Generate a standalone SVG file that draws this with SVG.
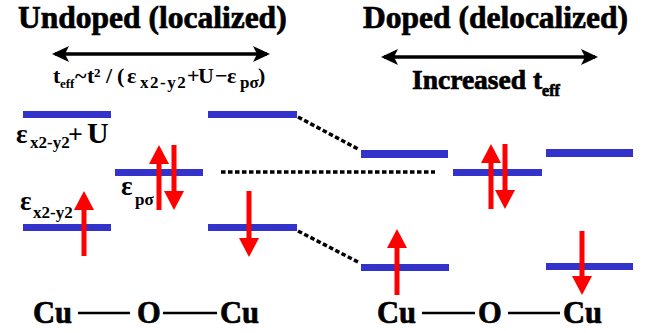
<svg xmlns="http://www.w3.org/2000/svg" width="652" height="333" viewBox="0 0 652 333">
<style>
text{font-family:"Liberation Serif","Times New Roman",serif;font-weight:bold;fill:#000}
.heavy{stroke:#000;stroke-width:0.7}
.lvl{fill:#3333cc}
.spin{stroke:#ff0000;stroke-width:5;fill:none}
.dbl{stroke:#000;stroke-width:3.5;fill:none}
.dot{stroke:#000;stroke-width:3.5;stroke-dasharray:4.5 2.5;fill:none}
.bond{stroke:#000;stroke-width:2.5}
</style>
<defs>
<marker id="rh" markerUnits="userSpaceOnUse" markerWidth="22" markerHeight="22" viewBox="0 0 22 22" refX="7" refY="11" orient="auto">
<path d="M0,1 L19,11 L0,21 Z" fill="#ff0000"/>
</marker>
<marker id="bh" markerUnits="userSpaceOnUse" markerWidth="18" markerHeight="18" viewBox="0 0 18 18" refX="14" refY="9" orient="auto-start-reverse">
<path d="M0,1 L17,9 L0,17 L4,9 Z" fill="#000"/>
</marker>
</defs>

<g id="titles">
<text class="heavy" x="18" y="28" font-size="31.5">Undoped (localized)</text>
<text class="heavy" x="363" y="28" font-size="31.5">Doped (delocalized)</text>
</g>

<g id="hopping">
<line class="dbl" x1="55" y1="54" x2="267" y2="54" marker-start="url(#bh)" marker-end="url(#bh)"/>
<line class="dbl" x1="384" y1="57" x2="595" y2="57" marker-start="url(#bh)" marker-end="url(#bh)"/>
<text y="83" font-size="22"><tspan x="53">t</tspan><tspan x="60" y="88" font-size="13">eff</tspan><tspan x="75" y="83">~</tspan><tspan x="87">t</tspan><tspan x="94" y="77" font-size="13">2</tspan><tspan x="106" y="83">/</tspan><tspan x="117">(</tspan><tspan x="127">ε</tspan><tspan x="140" y="88" font-size="17" letter-spacing="1.5">x2-y2</tspan><tspan x="187" y="83">+</tspan><tspan x="198">U</tspan><tspan x="215">−</tspan><tspan x="227">ε</tspan><tspan x="240" y="88" font-size="17">pσ</tspan><tspan x="258" y="83">)</tspan></text>
<text class="heavy" y="89" font-size="27.5"><tspan x="412">Increased t</tspan><tspan y="96" font-size="16">eff</tspan></text>
</g>

<g id="levels-undoped">
<rect class="lvl" x="23" y="111" width="88" height="7"/>
<rect class="lvl" x="23" y="224" width="88" height="7"/>
<rect class="lvl" x="115" y="169" width="88" height="7"/>
<rect class="lvl" x="208" y="111" width="89" height="7"/>
<rect class="lvl" x="208" y="224" width="89" height="7"/>
</g>

<g id="levels-doped">
<rect class="lvl" x="361" y="150" width="87" height="8"/>
<rect class="lvl" x="361" y="264" width="88" height="7"/>
<rect class="lvl" x="453" y="169" width="89" height="7"/>
<rect class="lvl" x="546" y="149" width="87" height="8"/>
<rect class="lvl" x="546" y="263" width="87" height="7"/>
</g>

<g id="labels">
<text y="143"><tspan x="16" font-size="27">ε</tspan><tspan x="30" y="148" font-size="17">x2-y2</tspan><tspan x="68" y="143" font-size="26">+</tspan><tspan x="87" font-size="30">U</tspan></text>
<text y="210"><tspan x="20" font-size="27">ε</tspan><tspan x="33" y="218" font-size="17">x2-y2</tspan></text>
<text y="195"><tspan x="121" font-size="27">ε</tspan><tspan x="135" y="205" font-size="17">pσ</tspan></text>
</g>

<g id="connectors">
<line class="dot" x1="298" y1="117" x2="358" y2="149"/>
<line class="dot" x1="298" y1="231" x2="358" y2="262"/>
<line class="dot" x1="221" y1="172" x2="435" y2="172"/>
</g>

<g id="spins">
<line class="spin" x1="84" y1="256" x2="84" y2="203" marker-end="url(#rh)"/>
<line class="spin" x1="159" y1="210" x2="159" y2="157" marker-end="url(#rh)"/>
<line class="spin" x1="174" y1="145" x2="174" y2="198" marker-end="url(#rh)"/>
<line class="spin" x1="249" y1="191" x2="249" y2="245" marker-end="url(#rh)"/>
<line class="spin" x1="397" y1="295" x2="397" y2="241" marker-end="url(#rh)"/>
<line class="spin" x1="491" y1="209" x2="491" y2="156" marker-end="url(#rh)"/>
<line class="spin" x1="505" y1="144" x2="505" y2="197" marker-end="url(#rh)"/>
<line class="spin" x1="582" y1="231" x2="582" y2="283" marker-end="url(#rh)"/>
</g>

<g id="chain-undoped">
<text class="heavy" x="33" y="323" font-size="30.5">Cu</text>
<line class="bond" x1="78" y1="313" x2="130" y2="313"/>
<text class="heavy" x="137" y="323" font-size="30.5">O</text>
<line class="bond" x1="163" y1="313" x2="217" y2="313"/>
<text class="heavy" x="220" y="323" font-size="30.5">Cu</text>
</g>

<g id="chain-doped">
<text class="heavy" x="377" y="323" font-size="30.5">Cu</text>
<line class="bond" x1="422" y1="313" x2="475" y2="313"/>
<text class="heavy" x="478" y="323" font-size="30.5">O</text>
<line class="bond" x1="508" y1="313" x2="560" y2="313"/>
<text class="heavy" x="563" y="323" font-size="30.5">Cu</text>
</g>
</svg>
